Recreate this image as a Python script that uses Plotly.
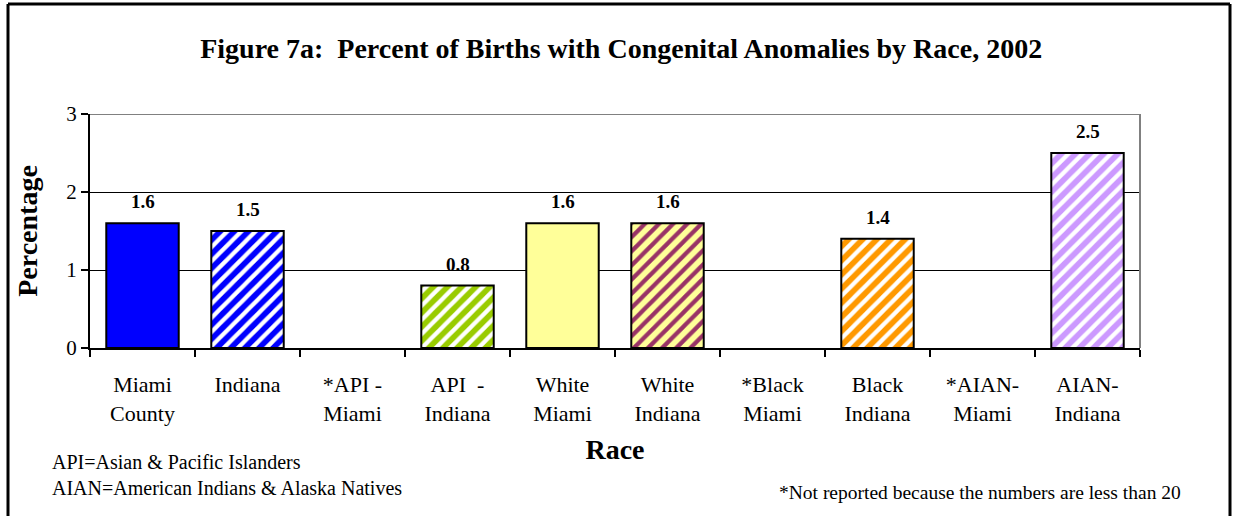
import plotly.graph_objects as go

categories = ["Miami<br>County", "Indiana", "*API -<br>Miami", "API  -<br>Indiana",
              "White<br>Miami", "White<br>Indiana", "*Black<br>Miami", "Black<br>Indiana",
              "*AIAN-<br>Miami", "AIAN-<br>Indiana"]
values = [1.6, 1.5, None, 0.8, 1.6, 1.6, None, 1.4, None, 2.5]
label_text = ["1.6", "1.5", "", "0.8", "1.6", "1.6", "", "1.4", "", "2.5"]
fill_colors = ["#0000FF", "#0000FF", "#FFFFFF", "#99CC00", "#FFFF99", "#FFFF99",
               "#FFFFFF", "#FF9900", "#FFFFFF", "#CC99FF"]
# solid bars use stripes in the same colour as their fill
stripe_colors = ["#0000FF", "#FFFFFF", "#FFFFFF", "#FFFFFF", "#FFFF99", "#993366",
                 "#FFFFFF", "#FFFFFF", "#FFFFFF", "#FFFFFF"]
y_ticks = [0, 1, 2, 3]

FONT = "Liberation Serif"
W, H = 1233, 516
ML, MR, MT, MB = 90, 93, 114, 168
PW, PH = W - ML - MR, H - MT - MB

def px_x(x):
    return (x - ML) / PW

def px_y(y):
    return 1 - (y - MT) / PH

fig = go.Figure()
fig.add_trace(go.Bar(
    x=categories, y=values,
    marker=dict(
        color="#FFFFFF",
        line=dict(color="black", width=2),
        pattern=dict(shape="/", fgcolor=stripe_colors, bgcolor=fill_colors,
                     fillmode="replace", fgopacity=1, size=10, solidity=0.42),
    ),
    hoverinfo="skip",
))

annotations = []
for c, v, t in zip(categories, values, label_text):
    if v is not None:
        annotations.append(dict(x=c, y=v, xref="x", yref="y", text="<b>%s</b>" % t,
                                showarrow=False, yanchor="bottom", yshift=9,
                                font=dict(family=FONT, size=19, color="black")))

annotations += [
    dict(x=px_x(50), y=px_y(462), xref="paper", yref="paper", xanchor="left", yanchor="middle",
         text="API=Asian &amp; Pacific Islanders", showarrow=False,
         font=dict(family=FONT, size=20, color="black")),
    dict(x=px_x(50), y=px_y(488), xref="paper", yref="paper", xanchor="left", yanchor="middle",
         text="AIAN=American Indians &amp; Alaska Natives", showarrow=False,
         font=dict(family=FONT, size=20, color="black")),
    dict(x=px_x(1183), y=px_y(492), xref="paper", yref="paper", xanchor="right", yanchor="middle",
         text="*Not reported because the numbers are less than 20", showarrow=False,
         font=dict(family=FONT, size=19.5, color="black")),
]

shapes = [
    # plot area top and right border (gray)
    dict(type="line", xref="paper", yref="y", x0=0, x1=1, y0=3, y1=3,
         line=dict(color="#808080", width=2), layer="above"),
    dict(type="line", xref="paper", yref="y", x0=1, x1=1, y0=0, y1=3,
         line=dict(color="#808080", width=2), layer="above"),
    # outer frame (open at the bottom)
    dict(type="line", xref="paper", yref="paper", x0=px_x(8), x1=px_x(8), y0=px_y(4), y1=px_y(520),
         line=dict(color="black", width=3)),
    dict(type="line", xref="paper", yref="paper", x0=px_x(8), x1=px_x(1230), y0=px_y(4), y1=px_y(4),
         line=dict(color="black", width=3)),
    dict(type="line", xref="paper", yref="paper", x0=px_x(1230), x1=px_x(1230), y0=px_y(4), y1=px_y(520),
         line=dict(color="black", width=3)),
]

fig.update_layout(
    width=W, height=H,
    margin=dict(l=ML, r=MR, t=MT, b=MB),
    paper_bgcolor="white", plot_bgcolor="white",
    showlegend=False,
    bargap=0.31,
    title=dict(text="<b>Figure 7a:  Percent of Births with Congenital Anomalies by Race, 2002</b>",
               x=px_x(619), xanchor="center", y=1 - 48 / H, yanchor="middle",
               font=dict(family=FONT, size=28, color="black")),
    xaxis=dict(
        type="category", showline=True, linecolor="black", linewidth=2,
        ticks="outside", tickson="boundaries", ticklen=7, tickcolor="black", tickwidth=2,
        tickfont=dict(family=FONT, size=22, color="black"), ticklabelstandoff=16,
        title=dict(text="<b>Race</b>", font=dict(family=FONT, size=28, color="black"), standoff=14),
        showgrid=False,
    ),
    yaxis=dict(
        range=[0, 3], tickvals=y_ticks, showline=True, linecolor="black", linewidth=2,
        ticks="outside", ticklen=7, tickcolor="black", tickwidth=2,
        tickfont=dict(family=FONT, size=21, color="black"),
        showgrid=True, gridcolor="black", gridwidth=1, zeroline=False,
        title=dict(text="<b>Percentage</b>", font=dict(family=FONT, size=28, color="black"), standoff=20),
    ),
    annotations=annotations,
    shapes=shapes,
)

fig.write_html("out.html", config={"displayModeBar": False},
               post_script="document.body.style.margin='0px';")
